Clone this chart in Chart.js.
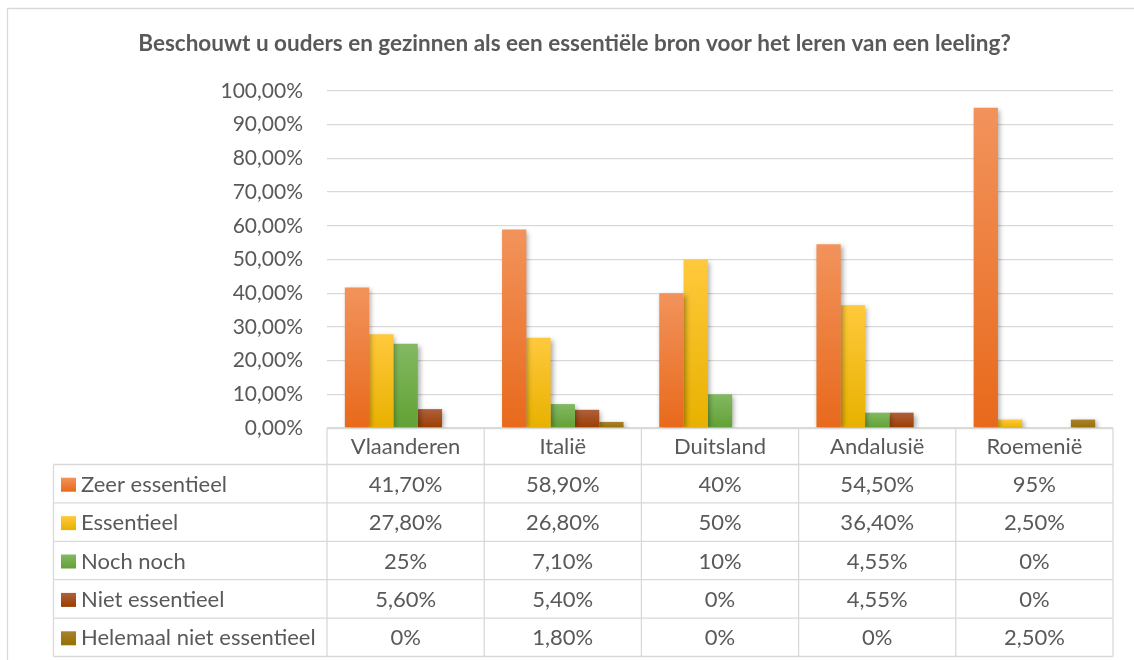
<!DOCTYPE html>
<html>
<head>
<meta charset="utf-8">
<script src="https://cdn.jsdelivr.net/npm/chart.js@4"></script>
<style>
  html, body { margin: 0; padding: 0; background: #ffffff; }
  #wrap { width: 1134px; height: 660px; position: relative; }
</style>
</head>
<body>
<div id="wrap"><canvas id="c"></canvas></div>
<script>
// ---- Data ----
const chartTitle = 'Beschouwt u ouders en gezinnen als een essentiële bron voor het leren van een leeling?';
const categories = ['Vlaanderen', 'Italië', 'Duitsland', 'Andalusië', 'Roemenië'];
const seriesNames = ['Zeer essentieel', 'Essentieel', 'Noch noch', 'Niet essentieel', 'Helemaal niet essentieel'];
const zeerEssentieel = [41.7, 58.9, 40, 54.5, 95];
const essentieel = [27.8, 26.8, 50, 36.4, 2.5];
const nochNoch = [25, 7.1, 10, 4.55, 0];
const nietEssentieel = [5.6, 5.4, 0, 4.55, 0];
const helemaalNiet = [0, 1.8, 0, 0, 2.5];
const yTicks = [0, 10, 20, 30, 40, 50, 60, 70, 80, 90, 100];

// ---- Styles ----
const seriesValues = [zeerEssentieel, essentieel, nochNoch, nietEssentieel, helemaalNiet];
const gradTop = ['#F2935C', '#FFC93C', '#82B962', '#AE603C', '#A8812E'];
const gradBot = ['#E8691B', '#E8B100', '#62A134', '#9C3D00', '#967000'];
const textColor = '#595959';
const lineColor = '#D9D9D9';
const FONT = 'Lato, "Open Sans", sans-serif';

function fmtPct(v) {
  if (Number.isInteger(v)) return v + '%';
  return v.toFixed(2).replace('.', ',') + '%';
}

function barGradient(i) {
  return function(ctx) {
    const chart = ctx.chart;
    const y = chart.scales && chart.scales.y;
    if (!y || ctx.type !== 'data') return gradBot[i];
    const top = y.getPixelForValue(ctx.raw);
    const bot = y.getPixelForValue(0);
    if (!isFinite(top) || !isFinite(bot) || Math.abs(bot - top) < 0.5) return gradBot[i];
    const g = chart.ctx.createLinearGradient(0, top, 0, bot);
    g.addColorStop(0, gradTop[i]);
    g.addColorStop(1, gradBot[i]);
    return g;
  };
}

const borderPlugin = {
  id: 'outerBorder',
  beforeDraw(chart) {
    const c = chart.ctx;
    c.save();
    c.strokeStyle = lineColor;
    c.lineWidth = 1.3;
    c.beginPath();
    c.moveTo(7.5, 700);
    c.lineTo(7.5, 8.5);
    c.lineTo(1200, 8.5);
    c.stroke();
    c.restore();
  }
};

const shadowPlugin = {
  id: 'barShadow',
  beforeDatasetsDraw(chart) {
    const c = chart.ctx;
    c.save();
    c.shadowColor = 'rgba(0,0,0,0.35)';
    c.shadowBlur = 5;
    c.shadowOffsetX = 2;
    c.shadowOffsetY = 2;
  },
  afterDatasetsDraw(chart) {
    chart.ctx.restore();
  }
};

const tablePlugin = {
  id: 'dataTable',
  afterDraw(chart) {
    const c = chart.ctx;
    const x = chart.scales.x;
    const area = chart.chartArea;
    const n = categories.length;
    const step = (x.right - x.left) / n;
    const left = x.left, right = x.right;
    const headTop = area.bottom;
    const headBot = headTop + 36.5;
    const rowH = 38.4;
    const tableLeft = 53.5;
    const rows = seriesNames.length;
    const tableBot = headBot + rows * rowH;

    c.save();
    c.strokeStyle = lineColor;
    c.lineWidth = 1.3;
    c.beginPath();
    c.moveTo(left, headTop + 0.5); c.lineTo(right, headTop + 0.5);
    for (let r = 0; r <= rows; r++) {
      const yy = headBot + r * rowH;
      c.moveTo(tableLeft, yy); c.lineTo(right, yy);
    }
    for (let i = 0; i <= n; i++) {
      const xx = left + i * step;
      c.moveTo(xx, headTop); c.lineTo(xx, tableBot);
    }
    c.moveTo(tableLeft, headBot); c.lineTo(tableLeft, tableBot);
    c.stroke();

    c.fillStyle = textColor;
    c.font = '22px ' + FONT;
    c.textAlign = 'center';
    c.textBaseline = 'middle';
    categories.forEach((cat, i) => {
      c.fillText(cat, x.getPixelForValue(i), (headTop + headBot) / 2 + 1);
    });
    for (let r = 0; r < rows; r++) {
      const cy = headBot + r * rowH + rowH / 2 + 1;
      const sy = cy - 7;
      const g = c.createLinearGradient(0, sy, 0, sy + 14);
      g.addColorStop(0, gradTop[r]);
      g.addColorStop(1, gradBot[r]);
      c.fillStyle = g;
      c.fillRect(61, sy, 15, 14);
      c.fillStyle = textColor;
      c.textAlign = 'left';
      c.fillText(seriesNames[r], 81, cy);
      c.textAlign = 'center';
      seriesValues[r].forEach((v, i) => {
        c.fillText(fmtPct(v), x.getPixelForValue(i), cy);
      });
    }
    c.restore();
  }
};

const datasets = seriesNames.map((name, i) => ({
  label: name,
  data: seriesValues[i],
  backgroundColor: barGradient(i),
  borderWidth: 0,
  categoryPercentage: 0.773,
  barPercentage: 1.0
}));

new Chart(document.getElementById('c'), {
  type: 'bar',
  data: { labels: categories, datasets },
  plugins: [borderPlugin, shadowPlugin, tablePlugin],
  options: {
    responsive: true,
    maintainAspectRatio: false,
    animation: false,
    layout: { padding: { top: 4, right: 21, bottom: 232, left: 36 } },
    plugins: {
      legend: { display: false },
      tooltip: { enabled: false },
      title: {
        display: true,
        text: chartTitle,
        color: textColor,
        font: { family: FONT, size: 22.5, weight: 'bold' },
        lineHeight: 1.2,
        padding: { top: 26, bottom: 34 }
      }
    },
    scales: {
      x: { display: false },
      y: {
        min: 0,
        max: 100,
        afterFit(scale) { scale.width = 291; },
        afterBuildTicks(scale) { scale.ticks = yTicks.map(v => ({ value: v })); },
        border: { display: false },
        grid: { color: lineColor, lineWidth: 1.3, drawTicks: false },
        ticks: {
          padding: 24,
          color: textColor,
          font: { family: FONT, size: 21 },
          callback: v => v.toFixed(2).replace('.', ',') + '%'
        }
      }
    }
  }
});
</script>
</body>
</html>
